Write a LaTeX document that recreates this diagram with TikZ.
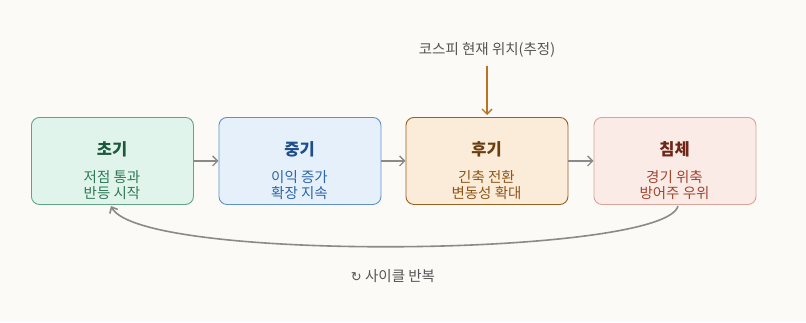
\documentclass[tikz,border=0pt]{standalone}
\usepackage{fontspec}
\setmainfont{Noto Sans CJK KR}
\newfontfamily\symfont{DejaVu Sans}
\usetikzlibrary{arrows.meta}
\definecolor{bg}{HTML}{FBFAF7}
\definecolor{gfill}{HTML}{E1F4EC}\definecolor{gdraw}{HTML}{5FA586}\definecolor{gtitle}{HTML}{1C5A3E}\definecolor{gtext}{HTML}{2E7A56}
\definecolor{bfill}{HTML}{E6F0FB}\definecolor{bdraw}{HTML}{5E91CC}\definecolor{btitle}{HTML}{1E4F8A}\definecolor{btext}{HTML}{2A66AA}
\definecolor{ofill}{HTML}{FBECD9}\definecolor{odraw}{HTML}{98601E}\definecolor{otitle}{HTML}{6A3E10}\definecolor{otext}{HTML}{8E5618}
\definecolor{rfill}{HTML}{FBEBE7}\definecolor{rdraw}{HTML}{D9A39A}\definecolor{rtitle}{HTML}{6E2616}\definecolor{rtext}{HTML}{A2452F}
\definecolor{arrgray}{HTML}{8A8A8A}\definecolor{marker}{HTML}{B8741E}\definecolor{lbl}{HTML}{555555}
\tikzset{
  stagebox/.style={draw, rounded corners=8pt, minimum width=162pt, minimum height=87pt, line width=0.9pt, anchor=north west, inner sep=0pt},
  titletext/.style={font=\fontsize{16.5}{19}\selectfont\bfseries},
  subtext/.style={font=\fontsize{14.5}{16.5}\selectfont, align=center},
  flow/.style={draw=arrgray, line width=1.3pt, -{Straight Barb[length=5pt,width=10pt]}},
}
\begin{document}
\begin{tikzpicture}[x=1pt,y=-1pt]
\fill[bg] (0,0) rectangle (806,322);
\useasboundingbox (0,0) rectangle (806,322);
% boxes
\node[stagebox, fill=gfill, draw=gdraw] (b1) at (31,117) {};
\node[stagebox, fill=bfill, draw=bdraw] (b2) at (218.5,117) {};
\node[stagebox, fill=ofill, draw=odraw] (b3) at (405.5,117) {};
\node[stagebox, fill=rfill, draw=rdraw] (b4) at (593.5,117) {};
% titles
\node[titletext, text=gtitle] (t1) at (112,149) {초기};
\node[titletext, text=btitle] (t2) at (299.5,149) {중기};
\node[titletext, text=otitle] (t3) at (486.5,149) {후기};
\node[titletext, text=rtitle] (t4) at (674.5,149) {침체};
% subtitles
\node[subtext, text=gtext] (s1) at (112,185) {저점 통과\\반등 시작};
\node[subtext, text=btext] (s2) at (299.5,185) {이익 증가\\확장 지속};
\node[subtext, text=otext] (s3) at (486.5,185) {긴축 전환\\변동성 확대};
\node[subtext, text=rtext] (s4) at (674.5,185) {경기 위축\\방어주 우위};
% flow arrows
\draw[flow] (b1.east) -- (b2.west);
\draw[flow] (b2.east) -- (b3.west);
\draw[flow] (b3.east) -- (b4.west);
% marker
\node[font=\fontsize{14.5}{17}\selectfont, text=lbl] (mk) at (487,50) {코스피 현재 위치(추정)};
\coordinate (mkend) at (487,115);
\draw[draw=marker, line width=1.4pt, -{Straight Barb[length=5pt,width=10pt]}] (487,66) -- (mkend);
% cycle
\coordinate (cs) at (678,206);
\coordinate (ce) at (111,206);
\draw[draw=arrgray, line width=1.6pt, -{Straight Barb[length=5pt,width=9pt]}] (cs) .. controls (665,257) and (140,263) .. (ce);
\node[font=\fontsize{14.5}{17}\selectfont, text=lbl] (cyc) at (393,276) {{\symfont\fontsize{13}{15}\selectfont ↻} 사이클 반복};
\end{tikzpicture}
\end{document}
